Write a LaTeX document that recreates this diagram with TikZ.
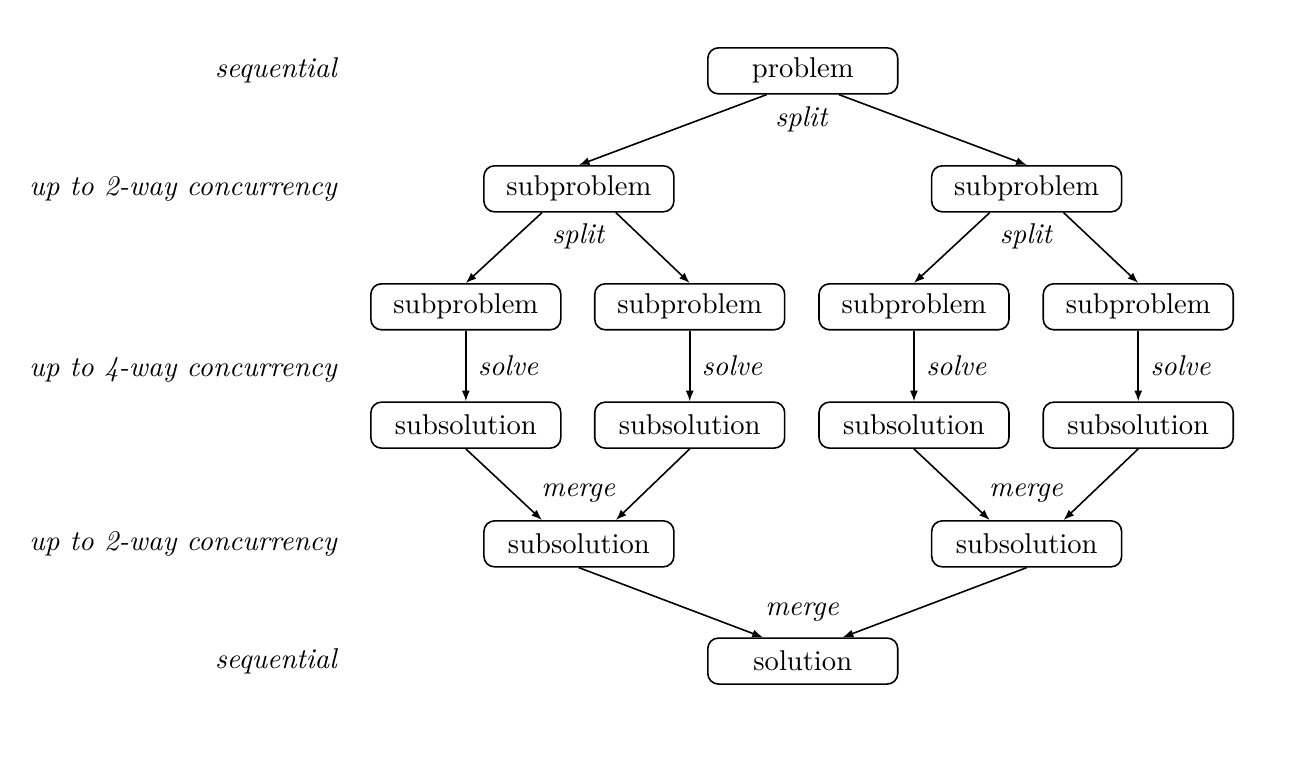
\documentclass[tikz,border=0pt]{standalone}
\usepackage{tikz}
\usetikzlibrary{arrows.meta}
\newcommand{\picsize}{\fontsize{10.8}{13}\selectfont}
\tikzset{
  stage/.style={draw, rounded corners=4pt, minimum width=2.52cm, minimum height=0.61cm, line width=0.6pt, font=\picsize},
  level/.style={anchor=east, font=\picsize\itshape},
  edgelabel/.style={font=\picsize\itshape},
  flow/.style={-{Latex[length=4pt,width=3pt]}, line width=0.6pt}
}

\begin{document}
\begin{tikzpicture}
        \useasboundingbox (0,0) rectangle (17.18,10.16);
        % levels of concurrency
        \node[level] (lvlA) at (4.59,9.22) {sequential};
        \node[level] (lvlB) at (4.59,7.655) {up to 2-way concurrency};
        \node[level] (lvlC) at (4.59,5.25) {up to 4-way concurrency};
        \node[level] (lvlD) at (4.59,2.945) {up to 2-way concurrency};
        \node[level] (lvlE) at (4.59,1.39) {sequential};
        % tasks
        \node[stage] (problem) at (10.65,9.22) {problem};
        \node[stage] (subL) at (7.68,7.655) {subproblem};
        \node[stage] (subR) at (13.62,7.655) {subproblem};
        \node[stage] (subA) at (6.18,6.09) {subproblem};
        \node[stage] (subB) at (9.15,6.09) {subproblem};
        \node[stage] (subC) at (12.125,6.09) {subproblem};
        \node[stage] (subD) at (15.10,6.09) {subproblem};
        \node[stage] (solA) at (6.18,4.52) {subsolution};
        \node[stage] (solB) at (9.15,4.52) {subsolution};
        \node[stage] (solC) at (12.125,4.52) {subsolution};
        \node[stage] (solD) at (15.10,4.52) {subsolution};
        \node[stage] (mrgL) at (7.68,2.945) {subsolution};
        \node[stage] (mrgR) at (13.62,2.945) {subsolution};
        \node[stage] (solution) at (10.65,1.39) {solution};
        % split
        \draw[flow] ([xshift=-0.48cm]problem.south) -- (subL.north);
        \draw[flow] ([xshift=0.48cm]problem.south) -- (subR.north);
        \node[edgelabel] (splitA) at (10.63,8.58) {split};
        \draw[flow] ([xshift=-0.49cm]subL.south) -- (subA.north);
        \draw[flow] ([xshift=0.49cm]subL.south) -- (subB.north);
        \node[edgelabel] (splitB) at (7.67,7.03) {split};
        \draw[flow] ([xshift=-0.49cm]subR.south) -- (subC.north);
        \draw[flow] ([xshift=0.49cm]subR.south) -- (subD.north);
        \node[edgelabel] (splitC) at (13.61,7.03) {split};
        % solve
        \foreach \t/\s in {subA/solA, subB/solB, subC/solC, subD/solD}
            \draw[flow] (\t.south) -- node[edgelabel, right, xshift=1pt] {solve} (\s.north);
        % merge
        \draw[flow] (solA.south) -- ([xshift=-0.49cm]mrgL.north);
        \draw[flow] (solB.south) -- ([xshift=0.49cm]mrgL.north);
        \node[edgelabel] (mergeA) at (7.67,3.62) {merge};
        \draw[flow] (solC.south) -- ([xshift=-0.49cm]mrgR.north);
        \draw[flow] (solD.south) -- ([xshift=0.49cm]mrgR.north);
        \node[edgelabel] (mergeB) at (13.61,3.62) {merge};
        \draw[flow] (mrgL.south) -- ([xshift=-0.53cm]solution.north);
        \draw[flow] (mrgR.south) -- ([xshift=0.53cm]solution.north);
        \node[edgelabel] (mergeC) at (10.64,2.04) {merge};
\end{tikzpicture}
\end{document}
